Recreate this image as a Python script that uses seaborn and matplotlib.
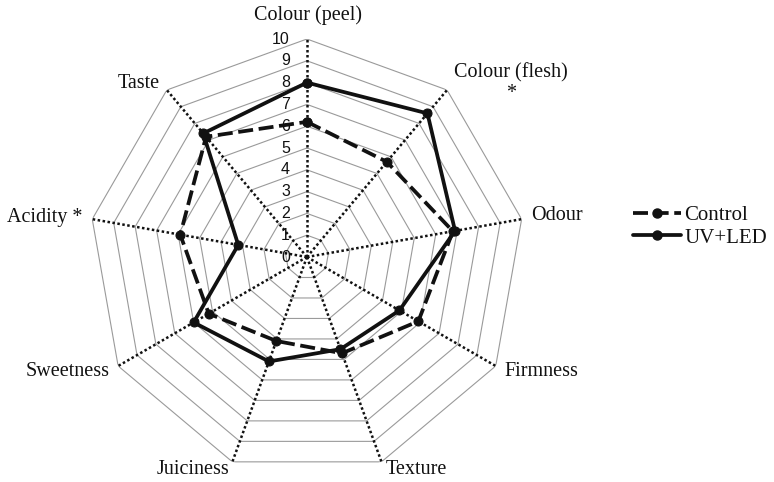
import numpy as np
import pandas as pd
import matplotlib
matplotlib.use("Agg")
import matplotlib.pyplot as plt
from matplotlib.lines import Line2D
import seaborn as sns

# ── DATA ──────────────────────────────────────────────────────────────────────
attributes = ["Colour (peel)", "Colour (flesh)\n*", "Odour", "Firmness", "Texture",
              "Juiciness", "Sweetness", "Acidity *", "Taste"]
control = [6.2, 5.7, 6.8, 5.9, 4.7, 4.1, 5.2, 5.9, 7.2]
uv_led  = [8.0, 8.6, 6.9, 4.9, 4.5, 5.1, 6.0, 3.2, 7.4]
scale_ticks = list(range(0, 11))

# label offsets from the outer vertex (pixels) + alignment
label_pos = {
    "Colour (peel)":    (1, 24, "center"),
    "Colour (flesh)\n*": (64, 7, "center"),
    "Odour":            (10, 4, "left"),
    "Firmness":         (9, -5, "left"),
    "Texture":          (35, -8, "center"),
    "Juiciness":        (-39, -8, "center"),
    "Sweetness":        (-9, -5, "right"),
    "Acidity *":        (-10, 2, "right"),
    "Taste":            (-7, 7, "right"),
}

INK  = "#111111"
GRID = "#9a9a9a"

sns.set_theme(style="white")
plt.rcParams["font.family"] = ["Liberation Serif", "DejaVu Serif"]

n = len(attributes)
theta = np.linspace(0, 2 * np.pi, n, endpoint=False)
theta_closed = np.append(theta, 2 * np.pi)

df = pd.DataFrame({
    "theta": np.tile(theta_closed, 2),
    "score": control + control[:1] + uv_led + uv_led[:1],
    "group": ["Control"] * (n + 1) + ["UV+LED"] * (n + 1),
})

fig = plt.figure(figsize=(7.74, 4.82), dpi=100, facecolor="white")
ax = fig.add_axes([0.1149, 0.0145, 0.5633, 0.9046], projection="polar")
ax.set_theta_zero_location("N")
ax.set_theta_direction(-1)
ax.set_ylim(0, 10)
ax.grid(False)
ax.set_xticks([])
ax.set_yticks([])
ax.spines["polar"].set_visible(False)
ax.set_facecolor("white")

# polygon rings
for r in scale_ticks[1:]:
    ax.plot(theta_closed, [r] * (n + 1), color=GRID, lw=0.8, zorder=1)
# dotted spokes
for t in theta:
    ax.plot([t, t], [0, 10], color=INK, lw=1.8, linestyle=(0, (1, 1)), zorder=2)

# scale numbers on the top spoke
for r in scale_ticks:
    ax.annotate(str(r), xy=(0, r), xytext=(-17, 0), textcoords="offset pixels",
                ha="right", va="center", fontsize=11.5, color=INK,
                family=["Liberation Sans Narrow", "Liberation Sans"])

# attribute labels
for t, name in zip(theta, attributes):
    dx, dy, ha = label_pos[name]
    ax.annotate(name, xy=(t, 10), xytext=(dx, dy), textcoords="offset pixels",
                ha=ha, va="center", fontsize=14.5, color=INK, linespacing=1.05,
                multialignment="center")

styles = {"Control": (0, (4, 1.5)), "UV+LED": "-"}
for grp, sub in df.groupby("group", sort=False):
    sns.lineplot(x=sub["theta"].values, y=sub["score"].values, ax=ax, sort=False,
                 estimator=None, color=INK, lw=2.7, linestyle=styles[grp],
                 marker="o", markersize=6.5, markeredgecolor=INK,
                 markerfacecolor=INK, zorder=5)
ax.set_xlabel("")
ax.set_ylabel("")

handles = [Line2D([], [], color=INK, lw=2.7, linestyle=styles[g], marker="o",
                  markersize=6.5, markerfacecolor=INK, markeredgecolor=INK)
           for g in ["Control", "UV+LED"]]
fig.legend(handles, ["Control", "UV+LED"], loc="center left",
           bbox_to_anchor=(0.818, 0.530), frameon=False, fontsize=15,
           handlelength=2.3, handletextpad=0.15, labelspacing=0.15,
           borderpad=0, borderaxespad=0, labelcolor=INK)

fig.savefig("out.png", dpi=100, facecolor="white")
